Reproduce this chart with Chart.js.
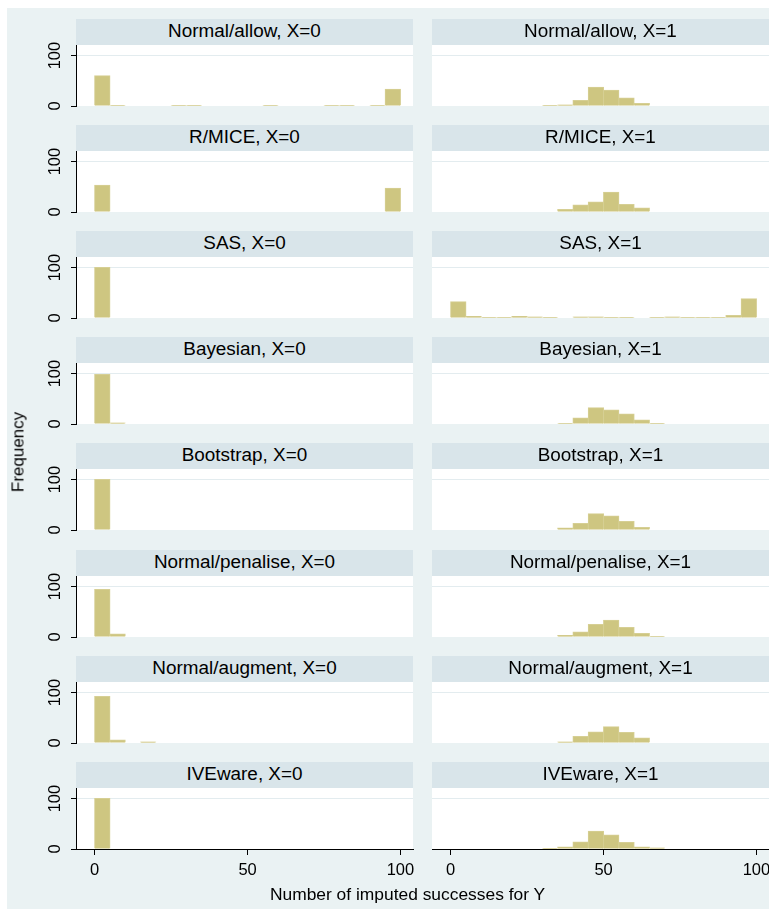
<!DOCTYPE html>
<html>
<head>
<meta charset="utf-8">
<title>Imputed successes by method</title>
<script src="https://cdn.jsdelivr.net/npm/chart.js@4.4.1/dist/chart.umd.min.js"></script>
<style>
  html, body { margin: 0; padding: 0; background: #ffffff; overflow: hidden; }
  #page {
    position: relative; width: 769px; height: 909px; overflow: hidden;
    font-family: "Liberation Sans", Arial, Helvetica, sans-serif; color: #000;
  }
  #backdrop { position: absolute; left: 7px; top: 8px; right: -40px; bottom: 0; background: #EAF2F3; }
  .strip {
    position: absolute; height: 26px; line-height: 23px; text-align: center;
    background: #D9E5EA; font-size: 18.9px; white-space: nowrap; overflow: hidden; z-index: 2;
  }
  canvas { position: absolute; z-index: 1; }
  .title { position: absolute; white-space: nowrap; line-height: 1; z-index: 2; }
  #ytitle { font-size: 17px; transform: translate(-50%, -50%) rotate(-90deg); }
  #xtitle { font-size: 17.4px; transform: translate(-50%, -50%); }
</style>
</head>
<body>
<div id="page">
  <div id="backdrop"></div>
  <div class="title" id="ytitle">Frequency</div>
  <div class="title" id="xtitle">Number of imputed successes for Y</div>
</div>
<script>
// Histogram bins: width 5, centred on these values
const binCentres = [2.5, 7.5, 12.5, 17.5, 22.5, 27.5, 32.5, 37.5, 42.5, 47.5,
                    52.5, 57.5, 62.5, 67.5, 72.5, 77.5, 82.5, 87.5, 92.5, 97.5];

const methods = ['Normal/allow', 'R/MICE', 'SAS', 'Bayesian', 'Bootstrap',
                 'Normal/penalise', 'Normal/augment', 'IVEware'];

const xTickValues = [0, 50, 100];
const yTickValues = [0, 100];

// Frequencies per bin, X = 0
const normalAllowX0    = [60, 1, 0, 0, 0, 1, 1, 0, 0, 0, 0, 1, 0, 0, 0, 1, 1, 0, 1, 33];
const rMiceX0          = [53, 0, 0, 0, 0, 0, 0, 0, 0, 0, 0, 0, 0, 0, 0, 0, 0, 0, 0, 47];
const sasX0            = [100, 0, 0, 0, 0, 0, 0, 0, 0, 0, 0, 0, 0, 0, 0, 0, 0, 0, 0, 0];
const bayesianX0       = [98, 2, 0, 0, 0, 0, 0, 0, 0, 0, 0, 0, 0, 0, 0, 0, 0, 0, 0, 0];
const bootstrapX0      = [100, 0, 0, 0, 0, 0, 0, 0, 0, 0, 0, 0, 0, 0, 0, 0, 0, 0, 0, 0];
const normalPenaliseX0 = [94, 6, 0, 0, 0, 0, 0, 0, 0, 0, 0, 0, 0, 0, 0, 0, 0, 0, 0, 0];
const normalAugmentX0  = [92, 6, 0, 2, 0, 0, 0, 0, 0, 0, 0, 0, 0, 0, 0, 0, 0, 0, 0, 0];
const ivewareX0        = [100, 0, 0, 0, 0, 0, 0, 0, 0, 0, 0, 0, 0, 0, 0, 0, 0, 0, 0, 0];

// Frequencies per bin, X = 1
const normalAllowX1    = [0, 0, 0, 0, 0, 0, 1, 2, 11, 37, 31, 16, 5, 0, 0, 0, 0, 0, 0, 0];
const rMiceX1          = [0, 0, 0, 0, 0, 0, 0, 5, 14, 20, 39, 15, 8, 0, 0, 0, 0, 0, 0, 0];
const sasX1            = [32, 3, 1, 1, 3, 2, 1, 0, 2, 2, 1, 1, 0, 1, 2, 1, 1, 1, 5, 38];
const bayesianX1       = [0, 0, 0, 0, 0, 0, 0, 1, 12, 32, 28, 20, 8, 1, 0, 0, 0, 0, 0, 0];
const bootstrapX1      = [0, 0, 0, 0, 0, 0, 0, 4, 13, 32, 28, 17, 5, 0, 0, 0, 0, 0, 0, 0];
const normalPenaliseX1 = [0, 0, 0, 0, 0, 0, 0, 3, 10, 25, 33, 19, 7, 1, 0, 0, 0, 0, 0, 0];
const normalAugmentX1  = [0, 0, 0, 0, 0, 0, 0, 2, 13, 22, 32, 21, 10, 0, 0, 0, 0, 0, 0, 0];
const ivewareX1        = [0, 0, 0, 0, 0, 0, 1, 4, 14, 35, 28, 13, 4, 2, 0, 0, 0, 0, 0, 0];

const countsByX = [
  [normalAllowX0, rMiceX0, sasX0, bayesianX0, bootstrapX0, normalPenaliseX0, normalAugmentX0, ivewareX0],
  [normalAllowX1, rMiceX1, sasX1, bayesianX1, bootstrapX1, normalPenaliseX1, normalAugmentX1, ivewareX1]
];

// Layout of the 8 x 2 grid of panels
const ROW_PITCH = 106.1;
const FIRST_PLOT_TOP = 45;
const PLOT_H = 61;
const PLOT_W = 337;
const COL_LEFT = [76, 432];
const STRIP_H = 26;
const PAD_TOP = 15;
const PAD_BOTTOM = 8;
const X_AXIS_H = 36;
const RIGHT_EXTRA = 30;

const X_MIN = -6.1, X_MAX = 104.1;
const Y_MIN = 0, Y_MAX = 121;

const FONT_FAMILY = '"Liberation Sans", Arial, Helvetica, sans-serif';
const BAR_FILL = 'rgb(206, 198, 129)';
const BAR_EDGE = 'rgb(214, 207, 148)';
const GRID_COLOUR = '#E3ECEF';
const AXIS_COLOUR = '#000000';

const page = document.getElementById('page');
document.getElementById('ytitle').style.left = '18px';
document.getElementById('ytitle').style.top = '452px';
document.getElementById('xtitle').style.left = '407.5px';
document.getElementById('xtitle').style.top = '895px';

// White plot region behind each panel
const plotBackground = {
  id: 'plotBackground',
  beforeDraw(chart) {
    const { ctx, chartArea: a } = chart;
    ctx.save();
    ctx.fillStyle = '#ffffff';
    ctx.fillRect(a.left, a.top, a.right - a.left, a.bottom - a.top);
    ctx.restore();
  }
};

function makePanel(row, col) {
  const isBottom = row === methods.length - 1;
  const isLeft = col === 0;
  const plotTop = Math.round(FIRST_PLOT_TOP + ROW_PITCH * row);
  const yAxisW = isLeft ? COL_LEFT[0] : 0;
  const canvasLeft = COL_LEFT[col] - yAxisW;
  const padRight = isLeft ? 12 : RIGHT_EXTRA;
  const canvasW = yAxisW + PLOT_W + padRight;
  const canvasTop = plotTop - PAD_TOP;
  const xAxisH = isBottom ? X_AXIS_H : 0;
  const canvasH = PAD_TOP + PLOT_H + (isBottom ? X_AXIS_H : PAD_BOTTOM);

  // panel heading strip
  const strip = document.createElement('div');
  strip.className = 'strip';
  strip.style.left = COL_LEFT[col] + 'px';
  strip.style.top = (plotTop - STRIP_H) + 'px';
  strip.style.width = PLOT_W + 'px';
  strip.textContent = methods[row] + ', X=' + col;
  page.appendChild(strip);

  const canvas = document.createElement('canvas');
  canvas.width = canvasW;
  canvas.height = canvasH;
  canvas.style.left = canvasLeft + 'px';
  canvas.style.top = canvasTop + 'px';
  canvas.style.width = canvasW + 'px';
  canvas.style.height = canvasH + 'px';
  page.appendChild(canvas);

  const counts = countsByX[col][row];

  new Chart(canvas, {
    type: 'bar',
    data: {
      datasets: [{
        data: binCentres.map((x, i) => ({ x: x, y: counts[i] })),
        backgroundColor: BAR_FILL,
        borderColor: BAR_EDGE,
        borderWidth: 1,
        inflateAmount: 0.5,
        barPercentage: 1,
        categoryPercentage: 1,
        grouped: false
      }]
    },
    options: {
      responsive: false,
      animation: false,
      events: [],
      devicePixelRatio: 1,
      layout: { padding: { top: PAD_TOP, bottom: isBottom ? 0 : PAD_BOTTOM, left: 0, right: padRight } },
      plugins: { legend: { display: false }, tooltip: { enabled: false }, title: { display: false } },
      scales: {
        x: {
          type: 'linear', min: X_MIN, max: X_MAX, bounds: 'data', offset: false,
          display: isBottom,
          afterBuildTicks: s => { s.ticks = xTickValues.map(v => ({ value: v })); },
          afterFit: s => { s.height = xAxisH; s.paddingLeft = 0; s.paddingRight = 0; },
          grid: { drawOnChartArea: false, offset: false, tickLength: 6, tickColor: AXIS_COLOUR, lineWidth: 1 },
          border: { display: true, color: AXIS_COLOUR, width: 1 },
          ticks: {
            autoSkip: false, maxRotation: 0, minRotation: 0, padding: 6,
            color: '#000', font: { family: FONT_FAMILY, size: 16.5 },
            callback: v => String(v)
          }
        },
        y: {
          type: 'linear', min: Y_MIN, max: Y_MAX, bounds: 'data',
          display: true,
          afterBuildTicks: s => { s.ticks = yTickValues.map(v => ({ value: v })); },
          afterFit: s => { s.width = yAxisW; s.paddingTop = 0; s.paddingBottom = 0; },
          grid: {
            color: ctx => (ctx.tick && ctx.tick.value === 100) ? GRID_COLOUR : 'rgba(0,0,0,0)',
            drawTicks: isLeft, tickLength: 5, tickColor: AXIS_COLOUR, lineWidth: 1
          },
          border: { display: isLeft, color: AXIS_COLOUR, width: 1 },
          ticks: {
            display: isLeft, autoSkip: false, minRotation: 90, maxRotation: 90,
            crossAlign: 'center', padding: 2,
            color: '#000', font: { family: FONT_FAMILY, size: 16.5 },
            callback: v => String(v)
          }
        }
      }
    },
    plugins: [plotBackground]
  });
}

for (let r = 0; r < methods.length; r++) {
  for (let c = 0; c < 2; c++) makePanel(r, c);
}
</script>
</body>
</html>
